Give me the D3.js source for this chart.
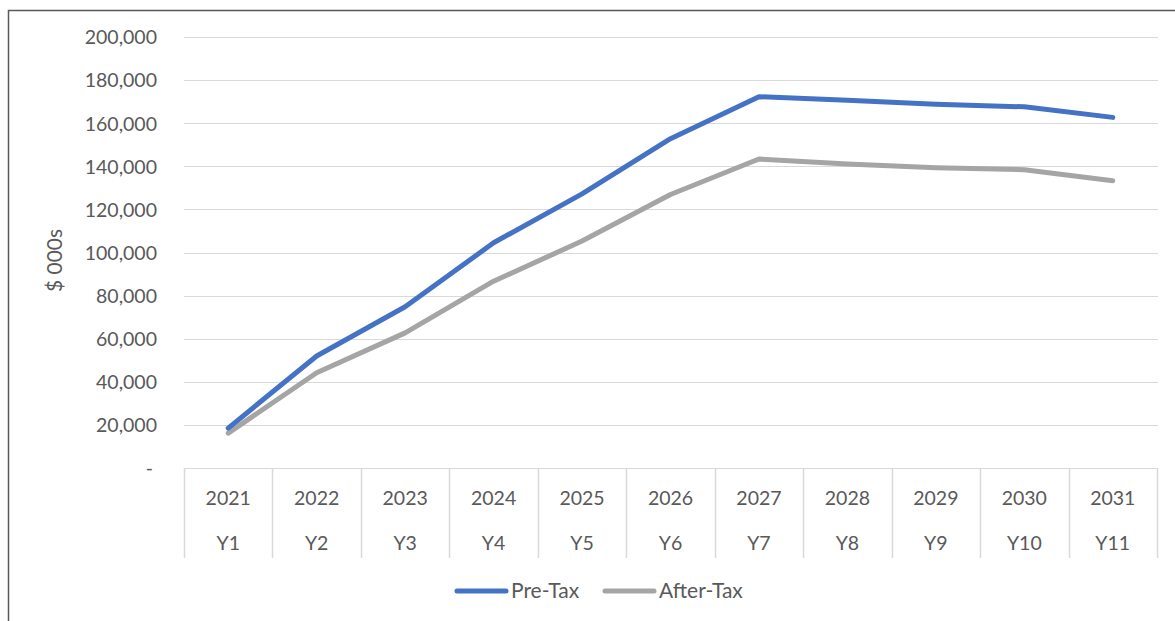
<!DOCTYPE html>
<html>
<head>
<meta charset="utf-8">
<script src="https://cdn.jsdelivr.net/npm/d3@7"></script>
<style>
  html, body { margin: 0; padding: 0; background: #fff; }
  svg { display: block; }
  text { font-family: Lato, "Open Sans", sans-serif; fill: #595959; }
</style>
</head>
<body>
<svg id="chart" width="1175" height="621"></svg>
<script>
const years = ["2021","2022","2023","2024","2025","2026","2027","2028","2029","2030","2031"];
const periods = ["Y1","Y2","Y3","Y4","Y5","Y6","Y7","Y8","Y9","Y10","Y11"];
const preTax = [18500, 52000, 74800, 104500, 127200, 152800, 172300, 170600, 168800, 167600, 162700];
const afterTax = [16200, 44200, 62700, 86700, 105300, 126900, 143400, 141100, 139300, 138400, 133300];
const yTicks = [0, 20000, 40000, 60000, 80000, 100000, 120000, 140000, 160000, 180000, 200000];
const seriesNames = ["Pre-Tax", "After-Tax"];
const seriesColors = ["#4472C4", "#A5A5A5"];

const svg = d3.select("#chart");

// outer chart border (left and top visible)
svg.append("path")
  .attr("d", "M8.5,621 L8.5,10.5 L1175,10.5")
  .attr("fill", "none").attr("stroke", "#595959").attr("stroke-width", 1.5);

const plotLeft = 184, plotRight = 1157, plotTop = 37, plotBottom = 468;

const x = d3.scaleBand().domain(years).range([plotLeft, plotRight]).padding(0);
const y = d3.scaleLinear().domain([0, 200000]).range([plotBottom, plotTop]);

// gridlines
svg.append("g").selectAll("line").data(yTicks.filter(d => d > 0)).join("line")
  .attr("x1", plotLeft).attr("x2", plotRight + 1)
  .attr("y1", d => Math.round(y(d)) + 0.5).attr("y2", d => Math.round(y(d)) + 0.5)
  .attr("stroke", "#D9D9D9").attr("stroke-width", 1);

// y axis labels
const fmt = d3.format(",");
const yAxis = d3.axisLeft(y).tickValues(yTicks).tickSize(0).tickPadding(0)
  .tickFormat(d => d === 0 ? "-" : fmt(d));
const yg = svg.append("g").attr("transform", `translate(${plotLeft - 27},0)`).call(yAxis);
yg.select(".domain").remove();
yg.selectAll("text").attr("font-size", 19.5).attr("fill", "#595959")
  .attr("font-family", "Lato, 'Open Sans', sans-serif").attr("dy", "0.35em");
yg.selectAll(".tick").filter(d => d === 0).select("text").attr("dx", "-4");

// y axis title
svg.append("text")
  .attr("transform", `translate(62,${(plotTop + plotBottom) / 2 + 8}) rotate(-90)`)
  .attr("text-anchor", "middle").attr("font-size", 21)
  .text("$ 000s");

// category box (multi-level axis)
const boxBottom = 558;
svg.append("line")
  .attr("x1", plotLeft).attr("x2", plotRight + 1)
  .attr("y1", plotBottom + 0.5).attr("y2", plotBottom + 0.5)
  .attr("stroke", "#D9D9D9").attr("stroke-width", 1.2);
const bounds = years.map(d => x(d)).concat([x.range()[1]]);
svg.append("g").selectAll("line").data(bounds).join("line")
  .attr("x1", d => Math.round(d) + 0.5).attr("x2", d => Math.round(d) + 0.5)
  .attr("y1", plotBottom).attr("y2", boxBottom)
  .attr("stroke", "#D9D9D9").attr("stroke-width", 1.5);

const xAxisYears = d3.axisBottom(x).tickSize(0).tickPadding(0);
const xg1 = svg.append("g").attr("transform", `translate(0,${plotBottom + 30})`).call(xAxisYears);
xg1.select(".domain").remove();
xg1.selectAll("text").attr("font-size", 19.5).attr("fill", "#595959")
  .attr("font-family", "Lato, 'Open Sans', sans-serif").attr("dy", "0.35em");

svg.append("g").selectAll("text").data(years).join("text")
  .attr("x", (d) => x(d) + x.bandwidth() / 2)
  .attr("y", plotBottom + 75)
  .attr("dy", "0.35em")
  .attr("text-anchor", "middle").attr("font-size", 19.5)
  .text((d, i) => periods[i]);

// lines
const allSeries = [preTax, afterTax];
const line = d3.line()
  .x((d, i) => x(years[i]) + x.bandwidth() / 2)
  .y(d => y(d));
[1, 0].forEach(k => {
  svg.append("path").datum(allSeries[k])
    .attr("d", line)
    .attr("fill", "none")
    .attr("stroke", seriesColors[k])
    .attr("stroke-width", 5)
    .attr("stroke-linejoin", "round")
    .attr("stroke-linecap", "round");
});

// legend
const legendY = 591;
const legendItems = [{x: 455}, {x: 603}];
seriesNames.forEach((name, i) => {
  const lx = legendItems[i].x;
  svg.append("line")
    .attr("x1", lx + 2).attr("x2", lx + 51)
    .attr("y1", legendY).attr("y2", legendY)
    .attr("stroke", seriesColors[i]).attr("stroke-width", 5)
    .attr("stroke-linecap", "round");
  svg.append("text")
    .attr("x", lx + 56).attr("y", legendY).attr("dy", "0.35em")
    .attr("font-size", 21)
    .text(name);
});
</script>
</body>
</html>
